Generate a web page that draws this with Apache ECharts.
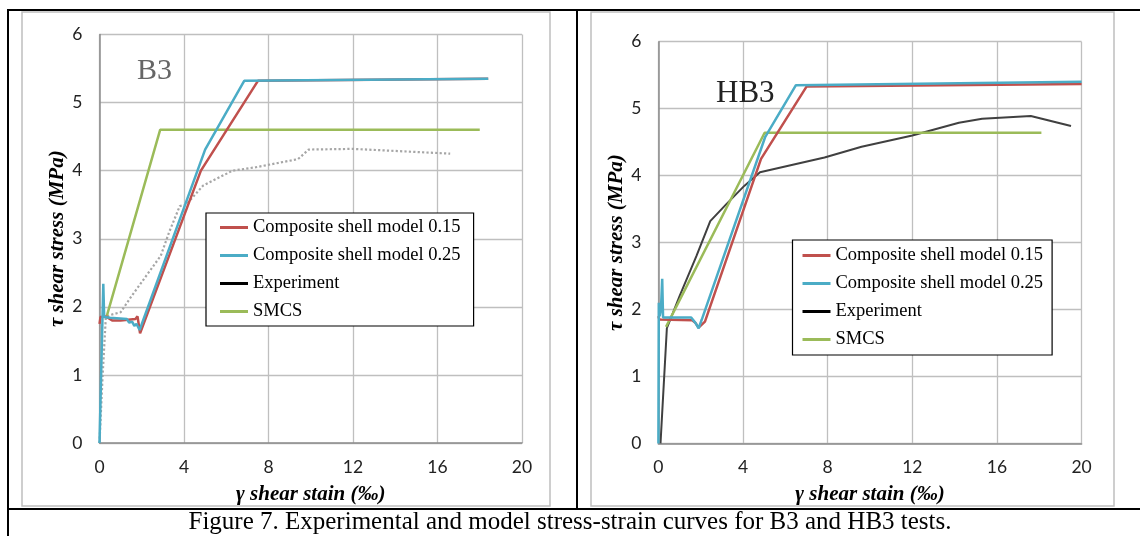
<!DOCTYPE html>
<html>
<head>
<meta charset="utf-8">
<script src="https://cdn.jsdelivr.net/npm/echarts@6/dist/echarts.min.js"></script>
<style>
  html, body { margin: 0; padding: 0; background: #fff; }
  #chart { width: 1140px; height: 536px; }
</style>
</head>
<body>
<div id="chart"></div>
<script>
// strain (‰) , stress (MPa) pairs
const seriesNames = ['Composite shell model 0.15', 'Composite shell model 0.25', 'Experiment', 'SMCS']
const xTicks = [0, 4, 8, 12, 16, 20]
const yTicks = [0, 1, 2, 3, 4, 5, 6]

// B3 test
const b3Model015 = [[0, 1.75], [0.05, 1.85], [0.3, 1.86], [0.6, 1.8], [1.0, 1.8], [1.7, 1.82], [1.8, 1.86], [1.92, 1.61], [4.8, 4.0], [7.5, 5.32], [18.4, 5.35]]
const b3Model025 = [[0, 0], [0.18, 2.34], [0.22, 1.85], [0.5, 1.84], [1.3, 1.82], [1.4, 1.77], [1.55, 1.78], [1.65, 1.72], [1.75, 1.75], [1.9, 1.66], [5.0, 4.31], [6.85, 5.32], [18.4, 5.35]]
const b3Experiment = [[0, 0], [0.15, 1.0], [0.3, 1.85], [0.5, 1.88], [1.0, 1.92], [1.5, 2.15], [2.2, 2.45], [2.9, 2.75], [3.3, 3.1], [3.8, 3.48], [4.1, 3.5], [4.9, 3.78], [6.3, 4.0], [7.4, 4.05], [9.4, 4.17], [9.9, 4.31], [12, 4.32], [16.6, 4.25]]
const b3Smcs = [[0.35, 1.87], [2.87, 4.6], [18.0, 4.6]]

// HB3 test
const hb3Model015 = [[0, 1.9], [0.05, 1.85], [1.6, 1.84], [1.75, 1.8], [1.9, 1.73], [2.2, 1.82], [4.85, 4.25], [7.0, 5.33], [20, 5.37]]
const hb3Model025 = [[0, 0], [0.02, 2.1], [0.06, 1.9], [0.12, 2.0], [0.18, 2.46], [0.22, 1.88], [1.55, 1.88], [1.75, 1.8], [1.9, 1.72], [2.05, 1.85], [5.05, 4.58], [6.5, 5.35], [20, 5.4]]
const hb3Experiment = [[0.1, 0], [0.4, 1.72], [1.0, 2.2], [1.8, 2.8], [2.45, 3.32], [3.2, 3.57], [4.07, 3.85], [4.8, 4.05], [7.85, 4.27], [9.6, 4.43], [12, 4.6], [14.2, 4.79], [15.3, 4.85], [17.6, 4.89], [19.5, 4.74]]
const hb3Smcs = [[0.36, 1.74], [5.02, 4.64], [18.1, 4.64]]

const RED = '#c0504d', BLUE = '#4bacc6', GREEN = '#9bbb59'
const serif = '"Liberation Serif", "DejaVu Serif", serif'

function xAxisOf(gridIndex) {
  return {
    gridIndex, type: 'value', min: xTicks[0], max: xTicks[xTicks.length - 1], interval: 4,
    name: 'γ shear stain (‰)', nameLocation: 'middle', nameGap: 41,
    nameTextStyle: { fontFamily: serif, fontWeight: 'bold', fontStyle: 'italic', fontSize: 21, color: '#000' },
    axisLine: { lineStyle: { color: '#8c8c8c', width: 1.5 } },
    axisTick: { show: false },
    axisLabel: { margin: 15, fontFamily: 'Lato', fontSize: 17.5, color: '#222' },
    splitLine: { lineStyle: { color: '#bfbfbf', width: 1.3 } }
  }
}
function yAxisOf(gridIndex) {
  return {
    gridIndex, type: 'value', min: yTicks[0], max: yTicks[yTicks.length - 1], interval: 1,
    name: 'τ shear stress (MPa)', nameLocation: 'middle', nameGap: 29,
    nameTextStyle: { fontFamily: serif, fontWeight: 'bold', fontStyle: 'italic', fontSize: 21, color: '#000' },
    axisLine: { show: true, lineStyle: { color: '#8c8c8c', width: 1.5 } },
    axisTick: { show: false },
    axisLabel: { margin: 17, fontFamily: 'Lato', fontSize: 17.5, color: '#222' },
    splitLine: { lineStyle: { color: '#bfbfbf', width: 1.3 } }
  }
}
function line(name, data, idx, color, extra) {
  return Object.assign({
    name, type: 'line', data, xAxisIndex: idx, yAxisIndex: idx,
    symbol: 'none', smooth: false,
    itemStyle: { color },
    lineStyle: { color, width: 2.5 }
  }, extra || {})
}
function legendOf(left, top, padding) {
  return {
    orient: 'vertical', left, top, padding, itemGap: 9,
    icon: 'rect', itemWidth: 28, itemHeight: 3,
    backgroundColor: '#fff', borderColor: '#000', borderWidth: 1.2, borderRadius: 0,
    textStyle: { fontFamily: serif, fontSize: 18.5, color: '#000' },
    data: [
      { name: seriesNames[0], itemStyle: { color: RED } },
      { name: seriesNames[1], itemStyle: { color: BLUE } },
      { name: seriesNames[2], itemStyle: { color: '#000' } },
      { name: seriesNames[3], itemStyle: { color: GREEN } }
    ]
  }
}

const chart = echarts.init(document.getElementById('chart'))
chart.setOption({
  animation: false,
  backgroundColor: '#fff',
  grid: [
    { left: 99.5, top: 34.5, width: 422.5, height: 408.5 },
    { left: 658.4, top: 41.7, width: 423.2, height: 401.7 }
  ],
  xAxis: [xAxisOf(0), xAxisOf(1)],
  yAxis: [yAxisOf(0), yAxisOf(1)],
  legend: [legendOf(206, 213, [5, 13, 5, 14]), legendOf(792.5, 240, [6, 9, 6, 10])],
  series: [
    line(seriesNames[2], b3Experiment, 0, '#a6a6a6', { lineStyle: { color: '#a6a6a6', width: 2.2, type: 'dotted' } }),
    line(seriesNames[3], b3Smcs, 0, GREEN),
    line(seriesNames[0], b3Model015, 0, RED),
    line(seriesNames[1], b3Model025, 0, BLUE),
    line(seriesNames[2], hb3Experiment, 1, '#404040', { lineStyle: { color: '#404040', width: 2 } }),
    line(seriesNames[3], hb3Smcs, 1, GREEN),
    line(seriesNames[0], hb3Model015, 1, RED),
    line(seriesNames[1], hb3Model025, 1, BLUE)
  ],
  graphic: [
    // chart areas
    { type: 'rect', shape: { x: 22, y: 12, width: 528, height: 494 }, style: { fill: null, stroke: '#bfbfbf', lineWidth: 1.5 }, z: -1 },
    { type: 'rect', shape: { x: 591, y: 12, width: 523, height: 494 }, style: { fill: null, stroke: '#bfbfbf', lineWidth: 1.5 }, z: -1 },
    // table frame
    { type: 'line', shape: { x1: 7, y1: 10, x2: 1140, y2: 10 }, style: { stroke: '#000', lineWidth: 2 } },
    { type: 'line', shape: { x1: 8, y1: 10, x2: 8, y2: 536 }, style: { stroke: '#000', lineWidth: 2 } },
    { type: 'line', shape: { x1: 577, y1: 10, x2: 577, y2: 509 }, style: { stroke: '#000', lineWidth: 2 } },
    { type: 'line', shape: { x1: 7, y1: 509, x2: 1140, y2: 509 }, style: { stroke: '#000', lineWidth: 2 } },
    // panel labels
    { type: 'text', left: 137, top: 56, style: { text: 'B3', font: '30px ' + serif, fill: '#666' }, z: 10 },
    { type: 'text', left: 716, top: 78, style: { text: 'HB3', font: '31px ' + serif, fill: '#222' }, z: 10 },
    // caption
    { type: 'text', left: 'center', top: 510, style: { text: 'Figure 7. Experimental and model stress-strain curves for B3 and HB3 tests.', font: '25px ' + serif, fill: '#000' } }
  ]
})
</script>
</body>
</html>
